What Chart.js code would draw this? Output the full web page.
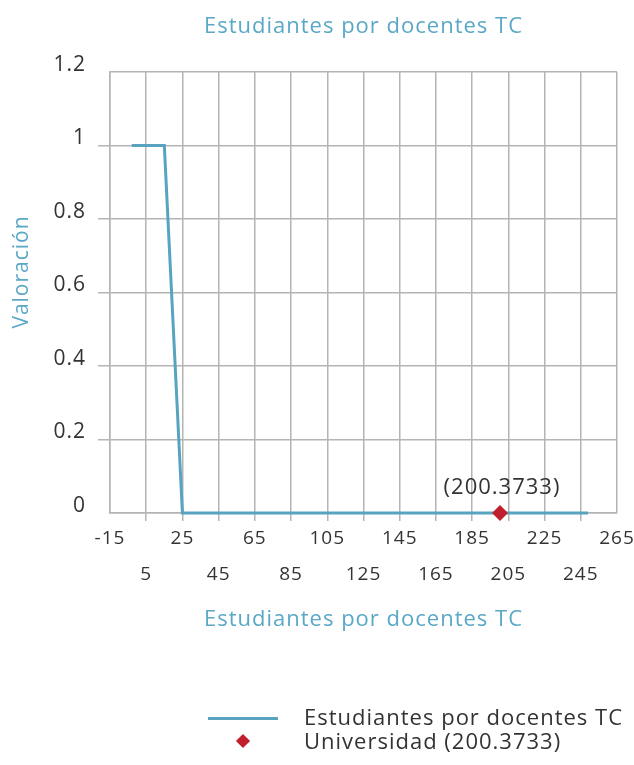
<!DOCTYPE html>
<html><head><meta charset="utf-8">
<script src="https://cdn.jsdelivr.net/npm/chart.js@4"></script>
<style>
html,body{margin:0;padding:0;background:#fff;}
#wrap{position:relative;width:634px;height:765px;overflow:hidden;}
#c{position:absolute;left:0;top:0;}
.lgtext{position:absolute;font-family:'Open Sans',sans-serif;font-weight:400;font-size:22px;letter-spacing:1px;color:#333;line-height:24px;white-space:nowrap;}
.lgline{position:absolute;height:3px;background:#57a3c0;}
.lgdia{position:absolute;width:10px;height:10px;background:#c0202e;transform:rotate(45deg);}
</style></head><body>
<div id="wrap"><canvas id="c" width="634" height="765"></canvas>
<div class="lgline" style="left:208px;top:717px;width:70px;"></div>
<div class="lgtext" id="lg1" style="left:304px;top:704px;"></div>
<div class="lgdia" style="left:238px;top:736px;"></div>
<div class="lgtext" id="lg2" style="left:304px;top:728px;"></div>
</div>
<script>
const lineX = [-3, 15, 25, 249];
const lineY = [1, 1, 0, 0];
const uniX = [200.3733];
const uniY = [0];
const xTicks = [-15, 5, 25, 45, 65, 85, 105, 125, 145, 165, 185, 205, 225, 245, 265];
const xTickLabels = ['-15', '5', '25', '45', '65', '85', '105', '125', '145', '165', '185', '205', '225', '245', '265'];
const yTicks = [0, 0.2, 0.4, 0.6, 0.8, 1, 1.2];
const yTickLabels = ['0', '0.2', '0.4', '0.6', '0.8', '1', '1.2'];
const seriesNames = ['Estudiantes por docentes TC', 'Universidad (200.3733)'];
const chartTitle = 'Estudiantes por docentes TC';
const xTitle = 'Estudiantes por docentes TC';
const yTitle = 'Valoración';
const pointLabel = '(200.3733)';

const FONT = "'Open Sans'";
const BLUE = '#57a3c0';
const TITLEBLUE = '#5aa8c6';
const RED = '#c0202e';
const GRID = '#b4b4b4';
const TXT = '#333333';

document.getElementById('lg1').textContent = seriesNames[0];
document.getElementById('lg2').textContent = seriesNames[1];

const extras = {
  id: 'extras',
  beforeDraw(chart) {
    chart.ctx.letterSpacing = '1px';
  },
  afterDraw(chart) {
    const ctx = chart.ctx;
    const a = chart.chartArea;
    ctx.save();
    ctx.letterSpacing = '1px';
    ctx.font = '22px ' + FONT;
    ctx.fillStyle = TITLEBLUE;
    ctx.textAlign = 'center';
    ctx.textBaseline = 'middle';
    ctx.fillText(chartTitle, (a.left + a.right) / 2, 27);
    ctx.save();
    ctx.translate(22, 272);
    ctx.rotate(-Math.PI / 2);
    ctx.font = '21px ' + FONT;
    ctx.fillText(yTitle, 0, 0);
    ctx.restore();
    const el = chart.getDatasetMeta(1).data[0];
    ctx.font = '22px ' + FONT;
    ctx.fillStyle = TXT;
    ctx.fillText(pointLabel, el.x + 2, el.y - 25);
    ctx.restore();
  }
};

const hideEnds = (n) => (c) => (c.index === 0 || c.index === n - 1) ? 'rgba(0,0,0,0)' : GRID;

new Chart(document.getElementById('c'), {
  type: 'scatter',
  data: {
    datasets: [
      {
        label: seriesNames[0],
        data: lineX.map((x, i) => ({x: x, y: lineY[i]})),
        showLine: true,
        borderColor: BLUE,
        borderWidth: 3,
        pointRadius: 0,
        fill: false,
        tension: 0,
        clip: false,
        order: 1
      },
      {
        label: seriesNames[1],
        data: uniX.map((x, i) => ({x: x, y: uniY[i]})),
        showLine: false,
        pointStyle: 'rectRot',
        pointRadius: 8,
        backgroundColor: RED,
        borderColor: RED,
        borderWidth: 0,
        clip: false,
        order: 0
      }
    ]
  },
  options: {
    responsive: false,
    animation: false,
    devicePixelRatio: 1,
    layout: {padding: {left: 0, top: 72, right: 17, bottom: 132}},
    plugins: {legend: {display: false}, tooltip: {enabled: false}, title: {display: false}},
    scales: {
      x: {
        type: 'linear',
        min: -15,
        max: 265,
        afterBuildTicks: (s) => { s.ticks = xTicks.map(v => ({value: v})); },
        afterFit: (s) => { s.height = 120; },
        ticks: {
          autoSkip: false,
          maxRotation: 0,
          minRotation: 0,
          padding: 0,
          color: TXT,
          font: {family: FONT, size: 19, lineHeight: 1.895},
          callback: (v, i) => (i % 2 === 0) ? [xTickLabels[i], ''] : ['', xTickLabels[i]]
        },
        grid: {color: GRID, lineWidth: 1.5, tickLength: 8, tickColor: hideEnds(xTicks.length)},
        border: {display: true, color: GRID, width: 1.5},
        title: {display: true, text: xTitle, color: TITLEBLUE, font: {family: FONT, size: 22}, padding: {top: 0, bottom: 0}}
      },
      y: {
        type: 'linear',
        min: 0,
        max: 1.2,
        afterBuildTicks: (s) => { s.ticks = yTicks.map(v => ({value: v})); },
        afterFit: (s) => { s.width = 110; },
        ticks: {
          padding: 12,
          labelOffset: -7,
          color: TXT,
          font: {family: FONT, size: 21},
          callback: (v, i) => yTickLabels[i]
        },
        grid: {color: GRID, lineWidth: 1.5, tickLength: 12, tickColor: hideEnds(yTicks.length)},
        border: {display: true, color: GRID, width: 1.5},
        title: {display: false}
      }
    }
  },
  plugins: [extras]
});
</script>
</body></html>
